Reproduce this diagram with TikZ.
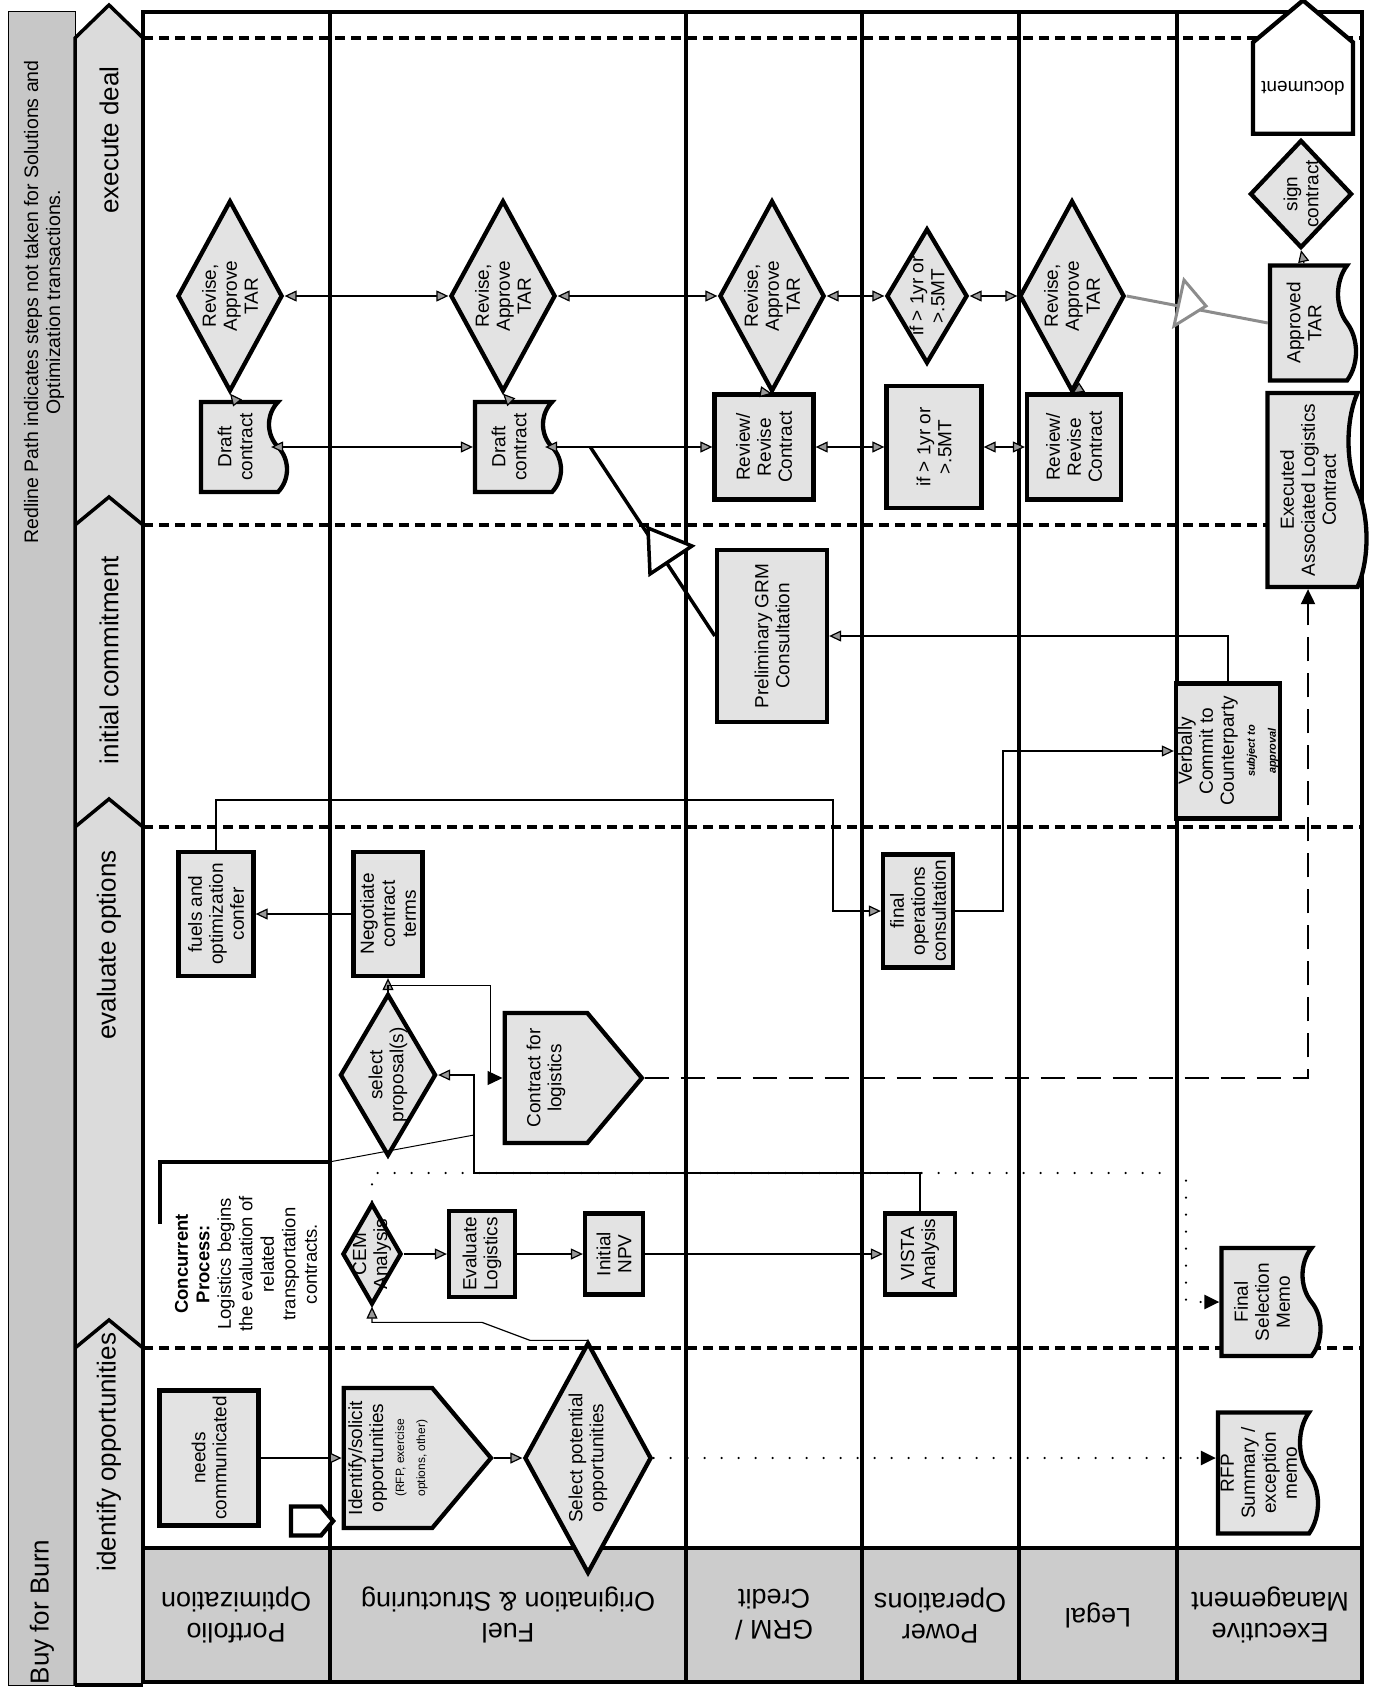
\documentclass[tikz,border=0pt]{standalone}
\usepackage{fontspec}
\setmainfont{Liberation Sans}
\usetikzlibrary{arrows.meta,calc,shapes.geometric,shapes.symbols}

\begin{document}
\begin{tikzpicture}[
    x=1pt, y=-1pt,
    shapebase/.style={draw, line width=4.3pt, fill=black!11, align=center, font=\fontsize{19}{21}\selectfont},
    process/.style 2 args={shapebase, rotate=90, rectangle, inner sep=2pt, minimum width=#1pt, minimum height=#2pt},
    decision/.style 2 args={shapebase, rotate=90, diamond, inner sep=-40pt, minimum width=#1pt, minimum height=#2pt},
    docnode/.style 2 args={shapebase, rotate=90, tape, tape bend top=none, tape bend height=18pt, inner sep=2pt, minimum width=#1pt, minimum height=#2pt},
    offpage/.style 2 args={shapebase, rotate=90, signal, signal to=south, signal pointer angle=100, inner sep=2pt, minimum width=#1pt, minimum height=#2pt},
    lanelabel/.style={rotate=180, align=center, font=\fontsize{27}{31}\selectfont},
    phaselabel/.style={rotate=90, font=\fontsize{26}{30}\selectfont},
    phaseline/.style={line width=4.5pt, dash pattern=on 10pt off 6pt},
    arrow/.style={line width=1.2pt, -{Triangle[length=12pt, width=11pt, fill=black!40]}},
    twoway/.style={line width=1.2pt, {Triangle[length=12pt, width=11pt, fill=black!40]}-{Triangle[length=12pt, width=11pt, fill=black!40]}},
    memoline/.style={line width=2.4pt, line cap=round, dash pattern=on 0pt off 17pt, -{Triangle[length=15pt, width=14pt]}},
    logline/.style={line width=2pt, dash pattern=on 24pt off 12pt, -{Triangle[length=15pt, width=14pt]}},
    redline/.style={line width=3.5pt}
]
\useasboundingbox (0,0) rectangle (1378,1691);

% frame, headers and lanes
\fill[black!22] (8,12) rectangle (75,1685);
\draw[line width=1pt] (8,12) rectangle (75,1685);
\fill[black!14] (75,38) -- (109,5) -- (143,38) -- (143,1685) -- (75,1685) -- cycle;
\fill[black!20] (143,1548) rectangle (1362,1682);
\draw[line width=3.5pt] (75,1685) -- (75,38) -- (109,5) -- (143,38);
\foreach \b in {525,827,1348}
    \draw[line width=3.5pt] (75,\b) -- (109,\b-28) -- (143,\b);
\draw[line width=3.5pt] (75,1685) -- (143,1685);
\draw[line width=3.5pt] (143,12) rectangle (1362,1682);
\foreach \x in {330,686,862,1019,1177}
    \draw[line width=3.5pt] (\x,12) -- (\x,1682);
\draw[line width=3.5pt] (143,1548) -- (1362,1548);
\foreach \y in {38,525,827,1348}
    \draw[phaseline] (143,\y) -- (1362,\y);

\node[rotate=90, font=\fontsize{26}{30}\selectfont] (title) at (42,1612) {Buy for Burn};
\node[rotate=90, align=center, font=\fontsize{19.5}{22}\selectfont] (note) at (44,302) {Redline Path indicates steps not taken for Solutions and\\Optimization transactions.};

\node[phaselabel] (phexec) at (109,140) {execute deal};
\node[phaselabel] (phinit) at (109,660) {initial commitment};
\node[phaselabel] (pheval) at (109,945) {evaluate options};
\node[phaselabel] (phident) at (109,1452) {identify opportunities};

\node[lanelabel] (lport) at (236,1615) {Portfolio\\Optimization};
\node[lanelabel] (lfuel) at (508,1615) {Fuel\\Origination \& Structuring};
\node[lanelabel] (lgrm) at (774,1615) {GRM /\\Credit};
\node[lanelabel] (lpower) at (940,1615) {Power\\Operations};
\node[lanelabel] (llegal) at (1098,1615) {Legal};
\node[lanelabel] (lexec) at (1270,1615) {Executive\\Management};

% execute deal
\node[decision={191}{105}] (d1) at (230,296) {Revise,\\Approve\\TAR};
\node[decision={191}{105}] (d2) at (503,296) {Revise,\\Approve\\TAR};
\node[decision={191}{105}] (d3) at (772,296) {Revise,\\Approve\\TAR};
\node[decision={135}{81}] (d4) at (927,296) {if > 1yr or\\>.5MT};
\node[decision={191}{105}] (d5) at (1072,296) {Revise,\\Approve\\TAR};
\node[docnode={90}{86}] (c1) at (235,447) {Draft\\contract};
\node[docnode={90}{86}] (c2) at (509,447) {Draft\\contract};
\node[process={105}{99}] (r3) at (764,447) {Review/\\Revise\\Contract};
\node[process={122}{95}] (b4) at (934,447) {if > 1yr or\\>.5MT};
\node[process={105}{94}] (r5) at (1074,447) {Review/\\Revise\\Contract};
\node[decision={108}{102}] (sign) at (1301,194) {sign\\contract};
\node[docnode={115}{86}] (apptar) at (1304,323) {Approved\\TAR};
\node[docnode={194}{99}] (execd) at (1308,490) {Executed\\Associated Logistics\\Contract};
\node[shapebase, rotate=180, signal, signal to=south, signal pointer angle=100, fill=white, inner sep=2pt, minimum width=100pt, minimum height=128pt] (docu) at (1303,88) {document};

% initial commitment
\node[process={172}{110}] (prelim) at (772,636) {Preliminary GRM\\Consultation};
\node[process={135}{99}] (verbal) at (1228,751) {Verbally\\Commit to\\Counterparty\\{\fontsize{11}{12}\selectfont\bfseries\itshape subject to}\\{\fontsize{11}{12}\selectfont\bfseries\itshape approval}};

% evaluate options
\node[process={124}{75}] (fuels) at (216,914) {fuels and\\optimization\\confer};
\node[process={124}{69}] (neg) at (388,914) {Negotiate\\contract\\terms};
\node[process={113}{70}] (finops) at (918,911) {final\\operations\\consultation};
\node[decision={162}{96}] (sel) at (388,1075) {select\\proposal(s)};
\node[offpage={130}{126}] (logi) at (546,1078) {Contract for\\logistics};
\node[rotate=90, align=center, font=\fontsize{18.5}{21.5}\selectfont] (concur) at (246,1264) {\textbf{Concurrent}\\\textbf{Process:}\\Logistics begins\\the evaluation of\\related\\transportation\\contracts.};
\node[decision={101}{59}] (cem) at (372,1254) {CEM\\Analysis};
\node[process={86}{66}] (evlog) at (482,1254) {Evaluate\\Logistics};
\node[process={81}{58}] (npv) at (614,1254) {Initial\\NPV};
\node[process={81}{70}] (vista) at (920,1254) {VISTA\\Analysis};
\node[docnode={108}{99}] (finmemo) at (1262,1302) {Final\\Selection\\Memo};

% identify opportunities
\node[process={135}{99}] (needs) at (209,1458) {needs\\communicated};
\node[offpage={140}{138}] (ident) at (388,1458) {Identify/solicit\\opportunities\\{\fontsize{12}{13}\selectfont (RFP, exercise}\\{\fontsize{12}{13}\selectfont options, other)}};
\node[decision={231}{127}] (selpot) at (588,1458) {Select potential\\opportunities};
\node[offpage={29}{30}, fill=white, inner sep=0pt] (mark) at (306,1521) {};
\node[docnode={121}{100}] (rfp) at (1259,1473) {RFP\\Summary /\\exception\\memo};

% connectors
\draw[arrow] (needs.south) -- (ident.north);
\draw[arrow] (ident.south) -- (selpot.north);
\draw[arrow] (selpot.east) -- ++(-58,0) -- ++(-48,-18) -| (cem.west);
\draw[arrow] (cem.south) -- (evlog.north);
\draw[arrow] (evlog.south) -- (npv.north);
\draw[arrow] (npv.south) -- (vista.north);
\draw[arrow] (vista.east) |- (474,1173) |- (sel.south);
\draw[arrow] (sel.east) -- (neg.west);
\draw[line width=1.2pt, -{Triangle[length=15pt, width=14pt]}] (sel.east) -- ++(0,-6) -| ($(logi.north)+(-12,0)$) -- (logi.north);
\draw[arrow] (neg.north) -- (fuels.south);
\draw[arrow] (fuels.east) |- (833,800) |- (finops.north);
\draw[arrow] (finops.south) -| (1003,751) -- (verbal.north);
\draw[arrow] (verbal.east) |- (prelim.south);
\draw[logline] (logi.south) -| (execd.west);
\draw[memoline] (cem.east) |- (1186,1173) |- (finmemo.north);
\draw[memoline] (selpot.south) -- (selpot.south -| rfp.north);
\draw[line width=4pt] (160,1224) -- (160,1162) -- (329,1162);
\draw[line width=1pt] (329,1162) -- (474,1135);

\draw[twoway] (c1.south) -- (c2.north);
\draw[twoway] (c2.south) -- (r3.north);
\draw[twoway] (r3.south) -- (b4.north);
\draw[twoway] (b4.south) -- (r5.north);
\draw[twoway] (d1.south) -- (d2.north);
\draw[twoway] (d2.south) -- (d3.north);
\draw[twoway] (d3.south) -- (d4.north);
\draw[twoway] (d4.south) -- (d5.north);
\draw[arrow] (c1.east) -- (d1.west);
\draw[arrow] (c2.east) -- (d2.west);
\draw[arrow] (r3.east) -- (d3.west);
\draw[arrow] (r5.east) -- (d5.west);
\draw[arrow] (apptar.east) -- (sign.west);

\coordinate (redpt) at ($(c2.south)!0.27!(r3.north)$);
\draw[redline] (prelim.north) -- (redpt);
\draw[redline, fill=white, line join=miter] (648,528) -- (692,546) -- (650,574) -- cycle;
\draw[line width=3pt, black!45] (d5.south) -- (apptar.north);
\draw[line width=3pt, black!45, fill=white, line join=miter] (1184,280) -- (1206,306) -- (1174,326) -- cycle;
\end{tikzpicture}
\end{document}
